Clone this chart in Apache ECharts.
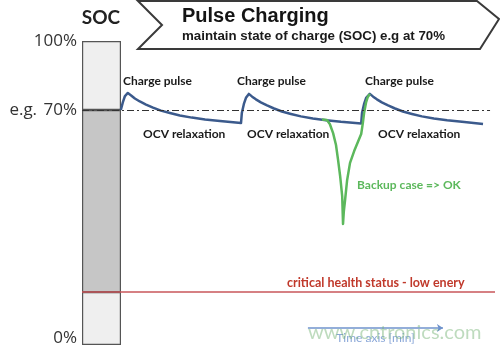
<!DOCTYPE html>
<html><head><meta charset="utf-8">
<script src="https://cdn.jsdelivr.net/npm/echarts@6/dist/echarts.min.js"></script>
<style>html,body{margin:0;padding:0;background:#fff}#c{width:500px;height:348px}</style>
</head><body><div id="c"></div>
<script>
// ---- data (level units: 0 = empty bar bottom, 100 = full bar top) ----
const socCategories = ['SOC'];
const socLowPart = [17.4];     // below critical line
const socMidPart = [59.9];     // critical -> target
const socTopPart = [22.7];     // target -> 100%
const yTickValues = [0, 77.3, 100];
const yTickLabels = ['0%', 'e.g. 70%', '100%'];
const targetLevel = 77.3;
const criticalLevel = 17.4;

const pulseTime  = [9.4, 9.9, 10.4, 11.1, 11.9, 12.8, 14.0, 15.5, 17.2, 19.1, 21.3, 23.7, 26.6, 29.8, 33.4, 38.5,
                    38.7, 39.2, 39.7, 40.4, 41.2, 42.1, 43.3, 44.8, 46.5, 48.4, 50.6, 53.0, 55.9, 59.1, 62.7, 67.6,
                    67.8, 68.3, 68.8, 69.7, 70.5, 71.4, 72.6, 74.1, 75.8, 77.7, 79.9, 82.3, 85.2, 88.4, 92.0, 97.1];
const pulseLevel = [77.3, 79.9, 81.9, 82.9, 82.1, 81.1, 80.1, 79.1, 78.1, 77.1, 76.3, 75.5, 74.8, 74.2, 73.7, 73.0,
                    76.3, 79.3, 81.3, 82.6, 81.7, 80.8, 79.8, 78.8, 77.8, 76.8, 76.0, 75.2, 74.5, 73.9, 73.4, 72.9,
                    76.3, 79.3, 81.3, 82.6, 81.7, 80.8, 79.8, 78.8, 77.8, 76.8, 76.0, 75.2, 74.5, 73.9, 73.4, 72.7];

const backupTime  = [58.1, 59.3, 60.0, 60.8, 61.5, 62.0, 62.5, 63.0, 63.2, 63.4, 63.7, 64.2, 64.9, 65.9, 66.8, 67.6, 68.0, 68.3, 68.8, 69.2, 69.7];
const backupLevel = [74.2, 74.0, 72.7, 69.7, 65.8, 60.9, 55.6, 49.0, 39.8, 44.0, 47.7, 54.3, 59.9, 63.8, 66.8, 69.4, 73.0, 76.3, 79.9, 81.6, 82.6];

const timeArrowStart = 54.7, timeArrowEnd = 87.4, timeArrowLevel = 5.6;
const lineEnd = 98.8;

const chargeLabels = ['Charge pulse', 'Charge pulse', 'Charge pulse'];
const ocvLabels = ['OCV relaxation', 'OCV relaxation', 'OCV relaxation'];

const FONT = 'Lato, "Open Sans", sans-serif';
const AXF = '"Open Sans", sans-serif';
const chart = echarts.init(document.getElementById('c'), null, {renderer: 'canvas'});

const txt = (text, x, y, size, color, weight, align, fam) => ({
  type: 'text', z: 100, x: x, y: y,
  style: { text: text, font: (weight || 'bold') + ' ' + size + 'px ' + (fam || FONT), fill: color,
           textAlign: align || 'left', textVerticalAlign: 'middle' }
});

const chargeX = [123, 237, 365];
const ocvX = [143, 247, 378];
const TITLEF = '"Liberation Sans", Arial, sans-serif';

chart.setOption({
  animation: false,
  backgroundColor: '#fff',
  grid: [
    { left: 82, width: 39, top: 41, bottom: 3 },
    { left: 82, right: 5, top: 41, bottom: 3 }
  ],
  xAxis: [
    { gridIndex: 0, type: 'category', data: socCategories, show: false },
    { gridIndex: 1, type: 'value', min: 0, max: 100, show: false }
  ],
  yAxis: [
    { gridIndex: 0, type: 'value', min: 0, max: 100,
      axisLine: { show: false }, axisTick: { show: false }, splitLine: { show: false },
      axisLabel: {
        customValues: yTickValues, margin: 5, color: '#333', fontSize: 17, fontFamily: AXF,
        formatter: v => {
          const i = yTickValues.indexOf(v);
          const s = i >= 0 ? yTickLabels[i] : '';
          if (i === 0) return '{low|' + s + '}';
          if (s.indexOf(' ') > 0) {
            const p = s.split(' ');
            return '{eg|' + p[0] + '} ' + p.slice(1).join(' ');
          }
          return s;
        },
        rich: {
          low: { fontSize: 17, color: '#333', fontFamily: AXF, padding: [0, 0, 14, 0] },
          eg: { fontSize: 17, color: '#333', fontFamily: AXF, padding: [0, 2, 0, 0] }
        }
      } },
    { gridIndex: 1, type: 'value', min: 0, max: 100, show: false }
  ],
  graphic: [
    { type: 'polygon', z: 50,
      shape: { points: [[138, 1], [477, 1], [499, 19], [480, 49], [138, 49], [162, 25]] },
      style: { fill: '#fff', stroke: '#3a3a3a', lineWidth: 2 } },
    txt('SOC', 101, 18, 19, '#222', 'bold', 'center'),
    txt('Pulse Charging', 182, 16, 20, '#141414', 'bold', 'left', TITLEF),
    txt('maintain state of charge (SOC) e.g at 70%', 182, 36, 13.3, '#1a1a1a', 'bold', 'left', TITLEF),
    ...chargeLabels.map((t, i) => txt(t, chargeX[i], 81, 12, '#1a1a1a')),
    ...ocvLabels.map((t, i) => txt(t, ocvX[i], 134, 12, '#1a1a1a')),
    txt('Backup case => OK', 357, 185, 12, '#5cb85c'),
    txt('critical health status - low enery', 287, 283, 12.5, '#c0392b'),
    { type: 'text', z: 120, x: 308, y: 333,
      style: { text: 'www.cntronics.com', font: '20px ' + FONT, fill: 'rgba(110,175,110,0.45)',
               textAlign: 'left', textVerticalAlign: 'middle' } }
  ],
  series: [
    { type: 'bar', xAxisIndex: 0, yAxisIndex: 0, stack: 'soc', barWidth: '100%', z: 1,
      data: socLowPart, itemStyle: { color: '#efefef', borderColor: '#555', borderWidth: 1.2 } },
    { type: 'bar', xAxisIndex: 0, yAxisIndex: 0, stack: 'soc', barWidth: '100%', z: 1,
      data: socMidPart, itemStyle: { color: '#c6c6c6', borderColor: '#555', borderWidth: 1.2 } },
    { type: 'bar', xAxisIndex: 0, yAxisIndex: 0, stack: 'soc', barWidth: '100%', z: 1,
      data: socTopPart, itemStyle: { color: '#efefef', borderColor: '#555', borderWidth: 1.2 } },
    { type: 'line', xAxisIndex: 1, yAxisIndex: 1, z: 3,
      data: pulseTime.map((t, i) => [t, pulseLevel[i]]),
      showSymbol: false, smooth: false,
      lineStyle: { color: '#3b5a8c', width: 2.5, join: 'round' },
      markLine: {
        silent: true, symbol: 'none', animation: false,
        data: [
          [ { coord: [0, targetLevel], lineStyle: { color: '#333', width: 1.2, type: [7, 3, 2, 3] }, label: { show: false } },
            { coord: [lineEnd, targetLevel] } ],
          [ { coord: [0, criticalLevel], lineStyle: { color: '#c9565a', width: 1.5, type: 'solid' }, label: { show: false } },
            { coord: [100, criticalLevel] } ],
          [ { coord: [timeArrowStart, timeArrowLevel], symbol: 'none',
              lineStyle: { color: '#6f93cc', width: 1.5, type: 'solid' },
              label: { show: true, formatter: 'Time axis [min]', position: 'insideMiddleBottom',
                       color: '#8aa7d8', fontSize: 12, fontFamily: FONT, distance: 4 } },
            { coord: [timeArrowEnd, timeArrowLevel], symbol: 'arrow', symbolSize: 6 } ]
        ]
      } },
    { type: 'line', xAxisIndex: 1, yAxisIndex: 1, z: 4,
      data: backupTime.map((t, i) => [t, backupLevel[i]]),
      showSymbol: false, smooth: false,
      lineStyle: { color: '#5cb85c', width: 2.5, join: 'round' } }
  ]
});
</script></body></html>
